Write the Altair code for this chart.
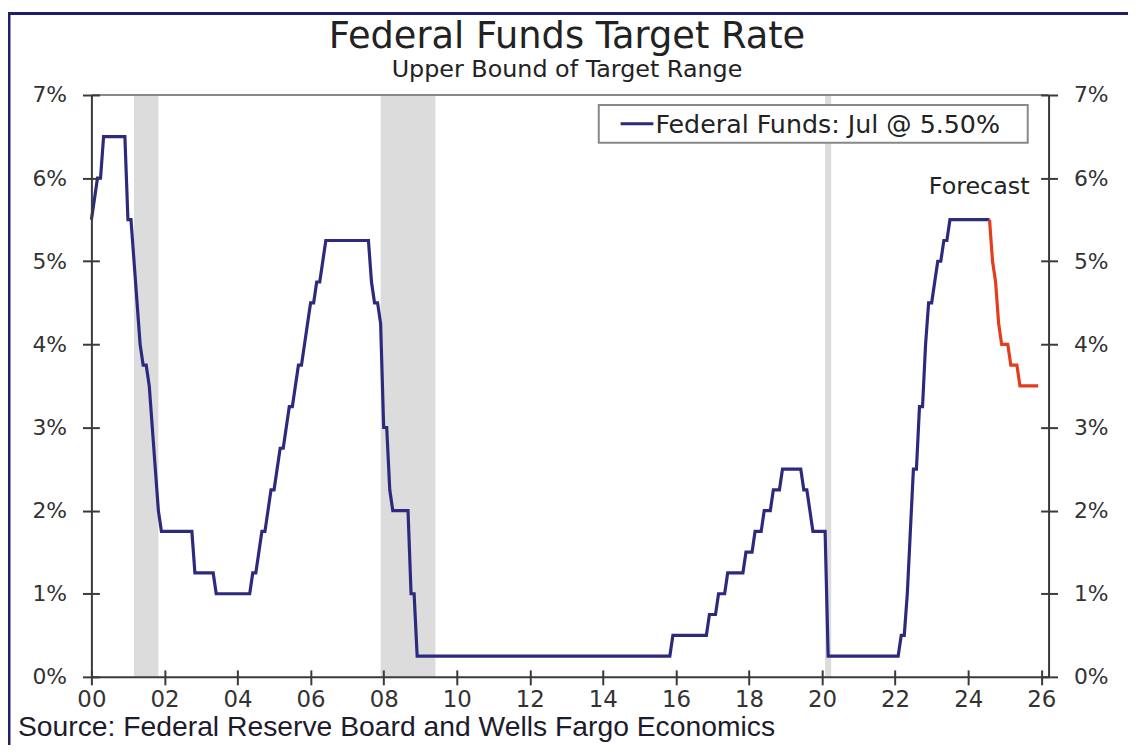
import altair as alt
import pandas as pd

# ---- data (month, upper bound %) ----
hist_months = [
    "2000-01", "2000-02", "2000-03", "2000-04", "2000-05", "2000-12",
    "2001-01", "2001-02", "2001-03", "2001-04", "2001-05", "2001-06", "2001-07",
    "2001-08", "2001-09", "2001-10", "2001-11", "2001-12",
    "2002-10", "2002-11", "2003-05", "2003-06",
    "2004-05", "2004-06", "2004-07", "2004-08", "2004-09", "2004-10", "2004-11", "2004-12",
    "2005-01", "2005-02", "2005-03", "2005-04", "2005-05", "2005-06", "2005-07",
    "2005-08", "2005-09", "2005-10", "2005-11", "2005-12",
    "2006-01", "2006-02", "2006-03", "2006-04", "2006-05", "2006-06",
    "2007-08", "2007-09", "2007-10", "2007-11", "2007-12",
    "2008-01", "2008-02", "2008-03", "2008-04", "2008-09", "2008-10", "2008-11", "2008-12",
    "2015-11", "2015-12", "2016-11", "2016-12",
    "2017-02", "2017-03", "2017-05", "2017-06", "2017-11", "2017-12",
    "2018-02", "2018-03", "2018-05", "2018-06", "2018-08", "2018-09", "2018-11", "2018-12",
    "2019-06", "2019-07", "2019-08", "2019-09", "2019-10",
    "2020-02", "2020-03",
    "2022-02", "2022-03", "2022-04", "2022-05", "2022-06", "2022-07", "2022-08",
    "2022-09", "2022-10", "2022-11", "2022-12",
    "2023-01", "2023-02", "2023-03", "2023-04", "2023-05", "2023-06", "2023-07",
    "2024-08",
]
hist_values = [
    5.50, 5.75, 6.00, 6.00, 6.50, 6.50,
    5.50, 5.50, 5.00, 4.50, 4.00, 3.75, 3.75,
    3.50, 3.00, 2.50, 2.00, 1.75,
    1.75, 1.25, 1.25, 1.00,
    1.00, 1.25, 1.25, 1.50, 1.75, 1.75, 2.00, 2.25,
    2.25, 2.50, 2.75, 2.75, 3.00, 3.25, 3.25,
    3.50, 3.75, 3.75, 4.00, 4.25,
    4.50, 4.50, 4.75, 4.75, 5.00, 5.25,
    5.25, 4.75, 4.50, 4.50, 4.25,
    3.00, 3.00, 2.25, 2.00, 2.00, 1.00, 1.00, 0.25,
    0.25, 0.50, 0.50, 0.75,
    0.75, 1.00, 1.00, 1.25, 1.25, 1.50,
    1.50, 1.75, 1.75, 2.00, 2.00, 2.25, 2.25, 2.50,
    2.50, 2.25, 2.25, 2.00, 1.75,
    1.75, 0.25,
    0.25, 0.50, 0.50, 1.00, 1.75, 2.50, 2.50,
    3.25, 3.25, 4.00, 4.50,
    4.50, 4.75, 5.00, 5.00, 5.25, 5.25, 5.50,
    5.50,
]
fc_months = ["2024-08", "2024-09", "2024-10", "2024-11", "2024-12",
             "2025-02", "2025-03", "2025-05", "2025-06", "2025-12"]
fc_values = [5.50, 5.00, 4.75, 4.25, 4.00, 4.00, 3.75, 3.75, 3.50, 3.50]

rec_start = ["2001-03", "2007-12", "2020-02"]
rec_end = ["2001-11", "2009-06", "2020-04"]

x_ticks = list(range(2000, 2027, 2))
y_ticks = [0, 1, 2, 3, 4, 5, 6, 7]

series_label = "Federal Funds: Jul @ 5.50%"
title_text = "Federal Funds Target Rate"
subtitle_text = "Upper Bound of Target Range"
source_text = "Source: Federal Reserve Board and Wells Fargo Economics"
forecast_text = "Forecast"


def dec(m):
    y, mo = m.split("-")
    return int(y) + (int(mo) - 1) / 12.0


hist_df = pd.DataFrame({"t": [dec(m) for m in hist_months], "v": hist_values})
fc_df = pd.DataFrame({"t": [dec(m) for m in fc_months], "v": fc_values})
rec_df = pd.DataFrame({"s": [dec(m) for m in rec_start], "e": [dec(m) for m in rec_end]})

NAVY = "#2D2A7E"
RED = "#E53C1E"
AX = "#3a3a3a"
FONT = "DejaVu Sans"
W, H = 964, 586

xscale = alt.Scale(domain=[2000, 2026.2], nice=False, zero=False)
yscale = alt.Scale(domain=[0, 7], nice=False, zero=True)

# grid dashes are used only to draw the short inner half of each tick
x_axis = alt.Axis(values=x_ticks, labelExpr="format(datum.value % 100, '02d')",
                  title=None, grid=True, gridColor=AX, gridWidth=2,
                  gridDash=[7, H - 7], gridDashOffset=7,
                  labelFont=FONT, labelFontSize=23,
                  labelColor="#333", tickColor=AX, tickSize=8, tickWidth=2,
                  domainColor=AX, domainWidth=2, labelPadding=4, labelFlush=False,
                  zindex=2)


def y_axis(orient):
    return alt.Axis(orient=orient, values=y_ticks, labelExpr="datum.value + '%'",
                    title=None, grid=True, gridColor=AX, gridWidth=2, gridDash=[8, 5000],
                    labelFont=FONT, labelFontSize=22,
                    labelColor="#333", tickColor=AX, tickSize=9, tickWidth=2,
                    domainColor=AX, domainWidth=2, labelPadding=16, labelFlush=False,
                    zindex=2)


one = alt.Data(values=[{}])

frame = alt.Chart(one).mark_rect(
    fill=None, stroke="#1F1F6E", strokeWidth=3
).encode(x=alt.value(-83), x2=alt.value(W + 150), y=alt.value(-82), y2=alt.value(H + 150))

top_border = alt.Chart(one).mark_rule(color="#888", strokeWidth=2).encode(
    x=alt.value(0), x2=alt.value(W), y=alt.value(0)
)

# legend box (drawn as a key)
leg_box = alt.Chart(one).mark_rect(fill="white", stroke="#888", strokeWidth=2).encode(
    x=alt.value(511), x2=alt.value(943), y=alt.value(10), y2=alt.value(48)
)
leg_key = alt.Chart(one).mark_rule(color=NAVY, strokeWidth=3).encode(
    x=alt.value(533), x2=alt.value(566), y=alt.value(29)
)
leg_text = alt.Chart(pd.DataFrame({"txt": [series_label]})).mark_text(
    font=FONT, fontSize=25.5, color="#222", align="left", baseline="middle"
).encode(x=alt.value(568), y=alt.value(30), text="txt:N")

shade = alt.Chart(rec_df).mark_rect(color="#dcdcdc").encode(
    x=alt.X("s:Q", scale=xscale, axis=x_axis),
    x2="e:Q",
)

hist_line = alt.Chart(hist_df).mark_line(strokeWidth=3.2, color=NAVY).encode(
    x=alt.X("t:Q", scale=xscale, axis=x_axis),
    y=alt.Y("v:Q", scale=yscale, axis=y_axis("left")),
)

fc_line = alt.Chart(fc_df).mark_line(strokeWidth=3.2, color=RED).encode(
    x=alt.X("t:Q", scale=xscale, axis=x_axis),
    y=alt.Y("v:Q", scale=yscale, axis=y_axis("right")),
)

fc_label = alt.Chart(pd.DataFrame({"t": [2024.3], "v": [5.89], "txt": [forecast_text]})).mark_text(
    font=FONT, fontSize=24, color="#222", align="center", baseline="middle"
).encode(
    x=alt.X("t:Q", scale=xscale, axis=x_axis),
    y=alt.Y("v:Q", scale=yscale, axis=None),
    text="txt:N",
)

titles = alt.Chart(pd.DataFrame({
    "txt": [title_text, subtitle_text],
    "ypix": [-58, -25],
    "size": [37, 24],
})).mark_text(font=FONT, color="#222", align="center", baseline="middle").encode(
    x=alt.value(W / 2 - 3),
    y=alt.Y("ypix:Q", scale=None),
    size=alt.Size("size:Q", scale=None, legend=None),
    text="txt:N",
)

source = alt.Chart(pd.DataFrame({"txt": [source_text]})).mark_text(
    font="Liberation Sans", fontSize=28.5, color="#1c1c2c", align="left", baseline="middle"
).encode(x=alt.value(-74), y=alt.value(H + 51), text="txt:N")

chart = alt.layer(shade, top_border, hist_line, fc_line, fc_label, leg_box, leg_key, leg_text,
                  titles, source, frame).resolve_scale(
    y="independent"
).properties(
    width=W, height=H,
    autosize=alt.AutoSizeParams(type="none"),
    padding={"left": 84, "top": 85, "right": 80, "bottom": 66},
    background="white",
).configure_view(stroke=None)

chart.save("out.html", embed_options={"renderer": "svg", "actions": False})
